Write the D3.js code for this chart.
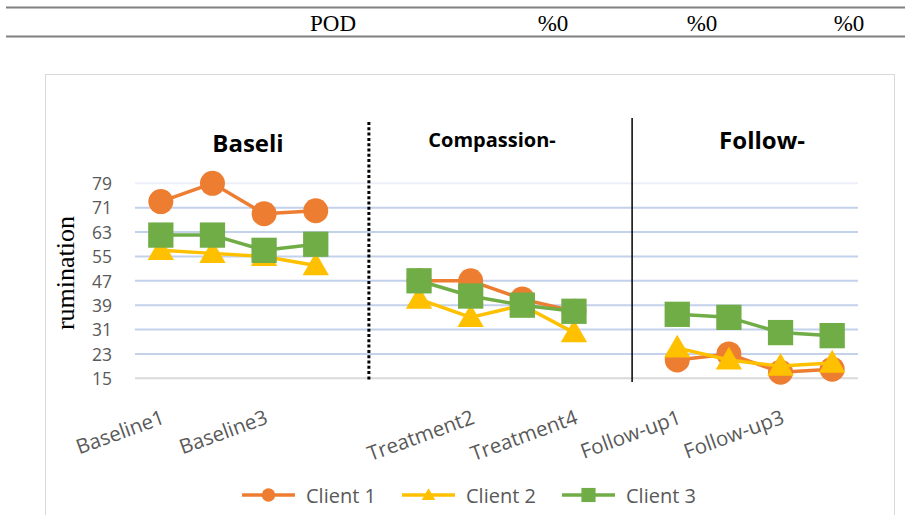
<!DOCTYPE html>
<html><head><meta charset="utf-8">
<script src="https://cdn.jsdelivr.net/npm/d3@7"></script>
<style>body{margin:0;background:#fff} svg{display:block}</style>
</head><body><svg id="c" width="905" height="515"></svg>
<script>
// ---- data ----
const categories = ["Baseline1","Baseline2","Baseline3","Baseline4","gap1",
  "Treatment1","Treatment2","Treatment3","Treatment4","gap2",
  "Follow-up1","Follow-up2","Follow-up3","Follow-up4"];
const client1 = [73,79,69,70,null,47,47,41,37,null,21,23,17,18];
const client2 = [57,56,55,52,null,41,35,39,30,null,25,21,19,20];
const client3 = [62,62,57,59,null,47,42,39,37,null,36,35,30,29];
const seriesNames = ["Client 1","Client 2","Client 3"];
const yTicks = [15,23,31,39,47,55,63,71,79];
const phaseTitles = ["Baseli","Compassion-","Follow-"];
const headerLabels = ["POD","%0","%0","%0"];
const yLabel = "rumination";

// ---- layout ----
const svg = d3.select("#c");
const W = 905, H = 515;
const colors = ["#ED7D31","#FFC000","#70AD47"];
const shapes = [d3.symbolCircle, d3.symbolTriangle, d3.symbolSquare];
const sans = "'Open Sans', sans-serif";
const serif = "'Liberation Serif', 'Times New Roman', serif";

svg.append("rect").attr("width",W).attr("height",H).attr("fill","#fff");

// header table
svg.append("line").attr("x1",6).attr("x2",W).attr("y1",7.5).attr("y2",7.5)
  .attr("stroke","#808080").attr("stroke-width",2);
svg.append("line").attr("x1",6).attr("x2",W).attr("y1",36.5).attr("y2",36.5)
  .attr("stroke","#808080").attr("stroke-width",2);
const headerX = [333,553,702,849];
svg.selectAll("text.hdr").data(headerLabels).join("text").attr("class","hdr")
  .attr("x",(d,i)=>headerX[i]).attr("y",31).attr("text-anchor","middle")
  .attr("font-family",serif).attr("font-size",23).attr("fill","#000").text(d=>d);

// chart frame
svg.append("rect").attr("x",45.5).attr("y",74.5).attr("width",849).attr("height",460)
  .attr("fill","#fff").attr("stroke","#D9D9D9").attr("stroke-width",1);

const x = d3.scaleBand().domain(categories).range([135,858]);
const y = d3.scaleLinear().domain([15,79]).range([378.3,183.3]);
const cx = c => x(c) + x.bandwidth()/2;

// gridlines
const g = svg.append("g");
g.selectAll("line.grid").data(yTicks).join("line").attr("class","grid")
  .attr("x1",135).attr("x2",858).attr("y1",d=>y(d)).attr("y2",d=>y(d))
  .attr("stroke",(d,i)=> i===0 ? "#D9D9D9" : (d===79 ? "#ECEEF8" : "#C3D1EB"))
  .attr("stroke-width",2);

// y axis
const yAxis = svg.append("g").attr("transform","translate(112,0)")
  .call(d3.axisLeft(y).tickValues(yTicks).tickSize(0).tickPadding(0));
yAxis.select(".domain").remove();
yAxis.selectAll("text").attr("font-family",sans).attr("font-size",17.5)
  .attr("fill","#595959").attr("dy","0.36em");

svg.append("text").attr("transform","translate(74,273) rotate(-90)")
  .attr("text-anchor","middle").attr("font-family",serif).attr("font-size",26)
  .attr("fill","#000").text(yLabel);

// x axis labels
const xAxis = svg.append("g").attr("transform","translate(0,380)")
  .call(d3.axisBottom(x).tickSize(0).tickFormat((d,i)=> (i%2===0 && !d.startsWith("gap")) ? d : ""));
xAxis.select(".domain").remove();
xAxis.selectAll("text").attr("font-family",sans).attr("font-size",20.5).attr("fill","#595959")
  .attr("text-anchor","end").attr("y",0).attr("dy",0)
  .attr("transform","translate(5,43) rotate(-20)");

// phase dividers
const dividerX1 = cx("gap1") + 1.5;
svg.append("line").attr("x1",dividerX1).attr("x2",dividerX1).attr("y1",122).attr("y2",381)
  .attr("stroke","#000").attr("stroke-width",3).attr("stroke-dasharray","3,2.3");
const dividerX2 = cx("gap2") + 6.5;
svg.append("line").attr("x1",dividerX2).attr("x2",dividerX2).attr("y1",118).attr("y2",382)
  .attr("stroke","#000").attr("stroke-width",1.5);

// phase titles
const titleX = [248,492,762], titleY = [152,147,149], titleSize = [24,20,24];
svg.selectAll("text.ph").data(phaseTitles).join("text").attr("class","ph")
  .attr("x",(d,i)=>titleX[i]).attr("y",(d,i)=>titleY[i]).attr("text-anchor","middle")
  .attr("font-family",sans).attr("font-weight","bold").attr("font-size",(d,i)=>titleSize[i])
  .attr("fill","#000").text(d=>d);

// series
const series = [client1, client2, client3];
const line = d3.line().defined(d=>d.v!==null).x(d=>cx(d.c)).y(d=>y(d.v));
const symSizes = [490, 300, 640];
series.forEach((vals,si)=>{
  const pts = vals.map((v,i)=>({c:categories[i], v}));
  svg.append("path").datum(pts).attr("d",line).attr("fill","none")
    .attr("stroke",colors[si]).attr("stroke-width",3.5).attr("stroke-linejoin","round");
  svg.append("g").selectAll("path").data(pts.filter(d=>d.v!==null)).join("path")
    .attr("transform",d=>`translate(${cx(d.c)},${y(d.v) + (si===1?2:0)})`)
    .attr("d",d3.symbol().type(shapes[si]).size(symSizes[si]))
    .attr("fill",colors[si]);
});

// legend
const legX = [242,402,562];
const leg = svg.selectAll("g.leg").data(seriesNames).join("g").attr("class","leg")
  .attr("transform",(d,i)=>`translate(${legX[i]},495)`);
leg.append("line").attr("x1",0).attr("x2",53).attr("stroke",(d,i)=>colors[i]).attr("stroke-width",3.5);
leg.append("path").attr("transform",(d,i)=>`translate(26.5,${i===1?1:0})`)
  .attr("d",(d,i)=>d3.symbol().type(shapes[i]).size([140,80,200][i])())
  .attr("fill",(d,i)=>colors[i]);
leg.append("text").attr("x",64).attr("y",8).attr("font-family",sans).attr("font-size",20)
  .attr("fill","#595959").text(d=>d);
</script></body></html>
